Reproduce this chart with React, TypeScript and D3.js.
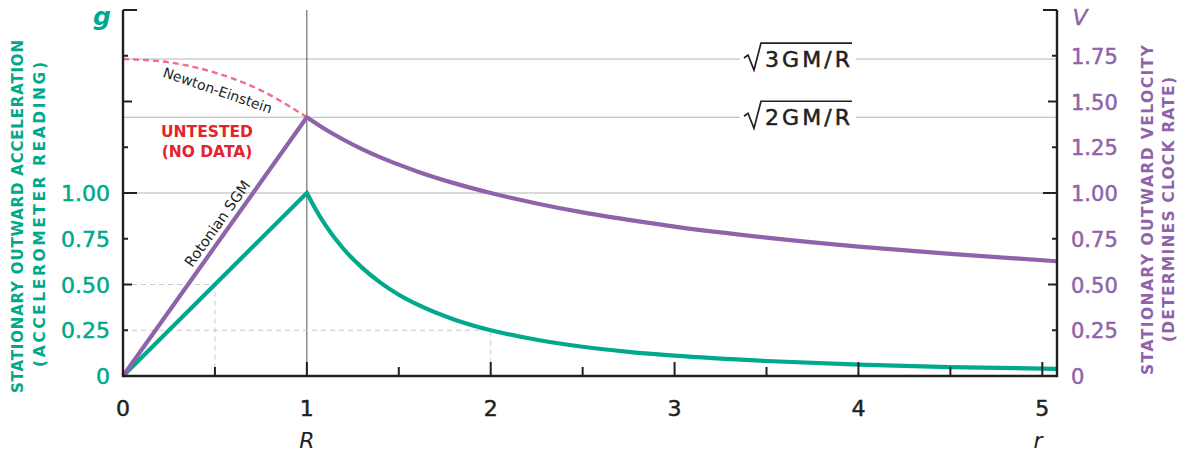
import React from "react";
import * as d3 from "d3";

// ---------- data ----------
const xTicksMajor = [0, 1, 2, 3, 4, 5];
const xTicksHalf = [0.5, 1.5, 2.5, 3.5, 4.5];
const leftLabels = [0, 0.25, 0.5, 0.75, 1.0];
const rightLabels = [0, 0.25, 0.5, 0.75, 1.0, 1.25, 1.5, 1.75];
const yTicks = [0, 0.25, 0.5, 0.75, 1, 1.25, 1.5, 1.75, 2];

// acceleration g (teal): rising inside, falling outside
const gInR = [0, 1];
const gInV = [0, 1];
const gOutR = [1, 1.05, 1.1, 1.2, 1.3, 1.4, 1.5, 1.6, 1.8, 2.0, 2.25, 2.5, 2.75, 3.0, 3.5, 4.0, 4.5, 5.08];
const gOutV = [1, 0.907, 0.826, 0.694, 0.592, 0.51, 0.444, 0.391, 0.309, 0.25, 0.198, 0.16, 0.132, 0.111, 0.082, 0.0625, 0.049, 0.039];

// velocity V (purple)
const vInR = [0, 1];
const vInV = [0, 1.414];
const vOutR = [1, 1.1, 1.2, 1.3, 1.4, 1.5, 1.6, 1.8, 2.0, 2.25, 2.5, 2.75, 3.0, 3.5, 4.0, 4.5, 5.08];
const vOutV = [1.414, 1.348, 1.291, 1.24, 1.195, 1.155, 1.118, 1.054, 1.0, 0.943, 0.894, 0.853, 0.816, 0.756, 0.707, 0.667, 0.627];

// Newton-Einstein interior (pink dashed)
const neR = [0, 0.25, 0.5, 0.75, 1.0];
const neV = [1.732, 1.714, 1.658, 1.561, 1.414];

const gridLevels = [1.0, 1.414, 1.732];
const gridLabels = ["", "2GM/R", "3GM/R"];

const TEAL = "#00a98b";
const PURPLE = "#8f63aa";
const PINK = "#f06e8c";
const RED = "#e2242d";
const INK = "#231f20";
const FONT = "'DejaVu Sans', sans-serif";

export default function App() {
  const x = d3.scaleLinear().domain([0, 5.08]).range([123, 1057]);
  const y = d3.scaleLinear().domain([0, 2]).range([376, 10]);

  const lin = d3.line<[number, number]>().x((d) => x(d[0])).y((d) => y(d[1]));
  const mono = d3
    .line<[number, number]>()
    .x((d) => x(d[0]))
    .y((d) => y(d[1]))
    .curve(d3.curveMonotoneX);

  const joinPath = (ar: number[], av: number[], br: number[], bv: number[]) => {
    const a = lin(ar.map((r, i) => [r, av[i]] as [number, number])) || "";
    const b = mono(br.map((r, i) => [r, bv[i]] as [number, number])) || "";
    return a + "L" + b.slice(1);
  };

  const gPath = joinPath(gInR, gInV, gOutR, gOutV);
  const vPath = joinPath(vInR, vInV, vOutR, vOutV);
  const nePath = mono(neR.map((r, i) => [r, neV[i]] as [number, number])) || "";

  const tickLen = (v: number) => (Number.isInteger(v) ? 14 : Math.abs((v * 2) % 1) < 1e-9 ? 9 : 5);

  const x0 = x(0);
  const xEnd = x(5.08);
  const y0 = y(0);

  // rotonian label angle along purple rising line
  const ang = (Math.atan2(y(vInV[1]) - y(0), x(1) - x(0)) * 180) / Math.PI;

  const numStyle = { strokeWidth: 0.5 } as const;

  return (
    <svg width={1179} height={454} style={{ display: "block", position: "absolute", left: 0, top: 0 }} fontFamily={FONT}>
      <rect width={1179} height={454} fill="#fff" />

      {/* grid lines */}
      {gridLevels.map((g, i) => (
        <line key={"gl" + i} x1={x0} x2={xEnd} y1={y(g)} y2={y(g)} stroke="#b5b5b5" strokeWidth={1} />
      ))}
      {/* sqrt labels */}
      {gridLevels.map((g, i) =>
        gridLabels[i] ? (
          <g key={"sl" + i} transform={`translate(${744},${y(g)})`}>
            <rect x={-4} y={-18} width={116} height={34} fill="#fff" />
            <path d="M0,-1 L4,-4 L10,11 L17,-16 L108,-16" fill="none" stroke={INK} strokeWidth={1.7} />
            <text x={21} y={8} fontSize={22} fill={INK} stroke={INK} {...numStyle} textLength={85} lengthAdjust="spacing">
              {gridLabels[i]}
            </text>
          </g>
        ) : null
      )}

      {/* vertical line at R */}
      <line x1={x(1)} x2={x(1)} y1={y(2)} y2={y0} stroke="#555" strokeWidth={1} />

      {/* dashed guide lines */}
      <path
        d={`M${x0},${y(0.5)}H${x(0.5)}V${y0}`}
        fill="none"
        stroke="#c8c8c8"
        strokeWidth={1}
        strokeDasharray="5,4"
      />
      <path
        d={`M${x0},${y(0.25)}H${x(2)}V${y0}`}
        fill="none"
        stroke="#c8c8c8"
        strokeWidth={1}
        strokeDasharray="5,4"
      />

      {/* curves */}
      <path d={nePath} fill="none" stroke={PINK} strokeWidth={2.4} strokeDasharray="6,4" />
      <path d={gPath} fill="none" stroke={TEAL} strokeWidth={4.2} strokeLinejoin="miter" />
      <path d={vPath} fill="none" stroke={PURPLE} strokeWidth={4.2} strokeLinejoin="miter" />

      {/* axes */}
      <line x1={x0} x2={x0} y1={y(2)} y2={y0 + 1} stroke={INK} strokeWidth={2.4} />
      <line x1={xEnd} x2={xEnd} y1={y(2)} y2={y0 + 1} stroke={INK} strokeWidth={2.4} />
      <line x1={x0 - 1} x2={xEnd + 1} y1={y0} y2={y0} stroke={INK} strokeWidth={2.4} />
      {yTicks.map((t) => (
        <g key={"yt" + t}>
          <line x1={x0} x2={x0 + tickLen(t)} y1={y(t)} y2={y(t)} stroke={INK} strokeWidth={2} />
          <line x1={xEnd} x2={xEnd - tickLen(t)} y1={y(t)} y2={y(t)} stroke={INK} strokeWidth={2} />
        </g>
      ))}
      {[...xTicksMajor, ...xTicksHalf].map((t) => (
        <line key={"xt" + t} x1={x(t)} x2={x(t)} y1={y0} y2={y0 - tickLen(t)} stroke={INK} strokeWidth={2} />
      ))}

      {/* tick labels */}
      {xTicksMajor.map((t) => (
        <text key={"xl" + t} x={x(t)} y={416} fontSize={22} fill={INK} stroke={INK} {...numStyle} textAnchor="middle">
          {t}
        </text>
      ))}
      {leftLabels.map((t) => (
        <text key={"ll" + t} x={110} y={y(t) + 8} fontSize={22} fill={TEAL} stroke={TEAL} {...numStyle} textAnchor="end">
          {t === 0 ? "0" : t.toFixed(2)}
        </text>
      ))}
      {rightLabels.map((t) => (
        <text key={"rl" + t} x={1071} y={y(t) + 8} fontSize={21} fill={PURPLE} stroke={PURPLE} {...numStyle} textAnchor="start">
          {t === 0 ? "0" : t.toFixed(2)}
        </text>
      ))}

      {/* axis letters */}
      <text x={x(1)} y={448} fontSize={22} fontStyle="italic" fill={INK} textAnchor="middle">
        R
      </text>
      <text x={1038} y={448} fontSize={22} fontStyle="italic" fill={INK} textAnchor="middle">
        r
      </text>
      <text x={102} y={25} fontSize={25} fontStyle="italic" fontWeight="bold" fill={TEAL} textAnchor="middle">
        g
      </text>
      <text x={1080} y={25} fontSize={22} fontStyle="italic" fill={PURPLE} stroke={PURPLE} strokeWidth={0.4} textAnchor="middle">
        V
      </text>

      {/* axis titles */}
      <g transform="translate(23,216.5) rotate(-90)">
        <text x={0} y={0} fontSize={15} fontWeight="bold" fill={TEAL} textAnchor="middle" textLength={353} lengthAdjust="spacing">
          STATIONARY OUTWARD ACCELERATION
        </text>
      </g>
      <g transform="translate(45,214.5) rotate(-90)">
        <text x={0} y={0} fontSize={15.5} fontWeight="bold" fill={TEAL} textAnchor="middle" textLength={305} lengthAdjust="spacing">
          (ACCELEROMETER READING)
        </text>
      </g>
      <g transform="translate(1153,210) rotate(-90)">
        <text x={0} y={0} fontSize={15.5} fontWeight="bold" fill={PURPLE} textAnchor="middle" textLength={330} lengthAdjust="spacing">
          STATIONARY OUTWARD VELOCITY
        </text>
      </g>
      <g transform="translate(1174,209.5) rotate(-90)">
        <text x={0} y={0} fontSize={15.5} fontWeight="bold" fill={PURPLE} textAnchor="middle" textLength={265} lengthAdjust="spacing">
          (DETERMINES CLOCK RATE)
        </text>
      </g>

      {/* annotations */}
      <text transform="translate(216,95) rotate(19)" fontSize={14} fill={INK} textAnchor="middle">
        Newton-Einstein
      </text>
      <text x={207} y={137} fontSize={15.5} fontWeight="bold" fill={RED} textAnchor="middle">
        UNTESTED
      </text>
      <text x={207} y={157} fontSize={15.5} fontWeight="bold" fill={RED} textAnchor="middle">
        (NO DATA)
      </text>
      <text transform={`translate(221.5,226.5) rotate(${ang})`} fontSize={14.5} fill={INK} textAnchor="middle">
        Rotonian SGM
      </text>
    </svg>
  );
}
